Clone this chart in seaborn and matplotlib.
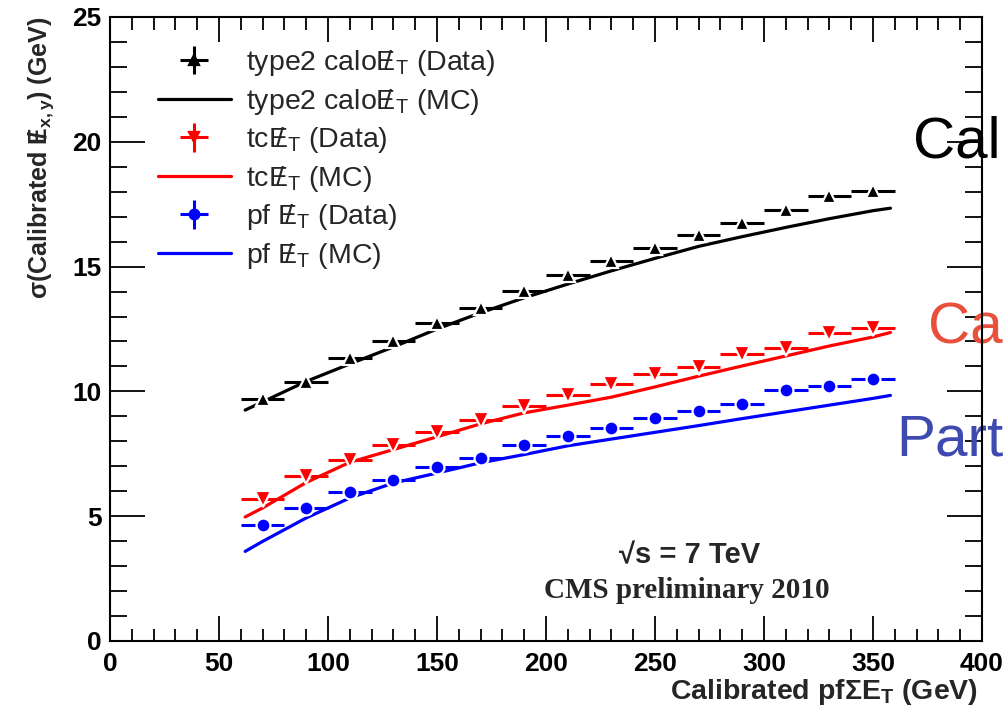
import numpy as np
import pandas as pd
import matplotlib
matplotlib.use("Agg")
import matplotlib.pyplot as plt
import matplotlib.lines as mlines
import seaborn as sns
from matplotlib.ticker import MultipleLocator

# ---- data ----
x_data = [70, 90, 110, 130, 150, 170, 190, 210, 230, 250, 270, 290, 310, 330, 350]
x_err = [10] * 15
y_err = [0.1] * 15
calo_data = [9.68, 10.39, 11.35, 12.0, 12.73, 13.36, 14.03, 14.65, 15.23, 15.73, 16.28, 16.75, 17.27, 17.84, 18.02]
tc_data = [5.70, 6.60, 7.27, 7.87, 8.37, 8.85, 9.41, 9.84, 10.28, 10.68, 10.99, 11.49, 11.75, 12.35, 12.55]
pf_data = [4.63, 5.34, 5.97, 6.47, 6.98, 7.34, 7.84, 8.23, 8.54, 8.93, 9.21, 9.50, 10.04, 10.21, 10.51]

x_mc = [62, 70, 90, 110, 130, 150, 170, 190, 210, 230, 250, 270, 290, 310, 330, 350, 358]
calo_mc = [9.25, 9.58, 10.4, 11.1, 11.78, 12.5, 13.15, 13.75, 14.3, 14.83, 15.33, 15.81, 16.2, 16.57, 16.92, 17.24, 17.34]
tc_mc = [4.97, 5.33, 6.35, 7.16, 7.67, 8.18, 8.70, 9.14, 9.45, 9.77, 10.18, 10.61, 11.02, 11.42, 11.82, 12.18, 12.36]
pf_mc = [3.59, 3.99, 4.93, 5.73, 6.33, 6.73, 7.14, 7.47, 7.82, 8.09, 8.36, 8.63, 8.91, 9.18, 9.45, 9.72, 9.84]

MET = r"${\mathrm{E}\!\!\!/\,}_\mathrm{T}$"
labels = [
    "type2 calo" + MET + " (Data)",
    "type2 calo" + MET + " (MC)",
    "tc" + MET + " (Data)",
    "tc" + MET + " (MC)",
    "pf " + MET + " (Data)",
    "pf " + MET + " (MC)",
]

sns.set_theme(style="ticks")
plt.rcParams["font.family"] = ["Liberation Sans", "DejaVu Sans"]
plt.rcParams["mathtext.fontset"] = "custom"
plt.rcParams["mathtext.rm"] = "Liberation Sans"
plt.rcParams["mathtext.bf"] = "Liberation Sans:bold"
plt.rcParams["mathtext.it"] = "Liberation Sans:italic"

W, H = 1005, 707
fig = plt.figure(figsize=(W / 100, H / 100), dpi=100)
fig.patch.set_facecolor("white")
ax = fig.add_axes([110 / W, 66 / H, 872 / W, 624 / H])
ax.set_facecolor("none")

mc = pd.DataFrame({"x": x_mc, "calo": calo_mc, "tc": tc_mc, "pf": pf_mc})

series = [
    (calo_data, "calo", "black", "^", 10),
    (tc_data, "tc", "red", "v", 11),
    (pf_data, "pf", "blue", "o", 10),
]
handles = []
for i, (yd, col, colr, mk, ms) in enumerate(series):
    eb = ax.errorbar(x_data, yd, xerr=x_err, yerr=y_err, fmt=mk, color=colr,
                     ms=ms, mec="white", mew=1.6, elinewidth=2.2, capsize=0, zorder=4)
    sns.lineplot(data=mc, x="x", y=col, color=colr, lw=2.3, ax=ax, zorder=3)
    line = ax.get_lines()[-1]
    handles.append(eb)
    handles.append(line)

ax.set_xlim(0, 400)
ax.set_ylim(0, 25)
ax.xaxis.set_major_locator(MultipleLocator(50))
ax.xaxis.set_minor_locator(MultipleLocator(10))
ax.yaxis.set_major_locator(MultipleLocator(5))
ax.yaxis.set_minor_locator(MultipleLocator(1))
ax.tick_params(which="both", direction="in", top=True, right=True, colors="black",
               width=1.3)
ax.tick_params(axis="x", which="major", length=18, pad=8)
ax.tick_params(axis="x", which="minor", length=9)
ax.tick_params(axis="y", which="major", length=25, pad=6)
ax.tick_params(axis="y", which="minor", length=12)
for lab in ax.get_xticklabels() + ax.get_yticklabels():
    lab.set_fontsize(19)
    lab.set_fontweight("bold")
for sp in ax.spines.values():
    sp.set_color("black")
    sp.set_linewidth(1.5)
    sp.set_zorder(5)

ax.set_xlabel(r"Calibrated pf$\mathbf{\Sigma}$E$_\mathbf{T}$ (GeV)", fontsize=20.5,
              fontweight="bold", loc="right")
ax.xaxis.set_label_coords(0.995, -0.058)
ax.set_ylabel(r"$\mathbf{\sigma}$(Calibrated ${\mathbf{E}\!\!\!\mathbf{/}\,}_{\mathbf{x,y}}$) (GeV)",
              fontsize=18, fontweight="bold", loc="top")
ax.yaxis.set_label_coords(-0.062, 1.0)

leg = ax.legend(handles, labels, loc="upper left", bbox_to_anchor=(0.055, 0.95),
                frameon=False, fontsize=20.5, handlelength=2.55, handletextpad=0.55,
                labelspacing=0.3, borderpad=0, borderaxespad=0)
for ln in leg.findobj(mlines.Line2D):
    if ln.get_marker() not in (None, "", "None"):
        ln.set_markeredgecolor(ln.get_color())
        ln.set_markersize(7)

fig.text(690 / W, 1 - 555 / H, "\u221as = 7 TeV", fontsize=21, fontweight="bold",
         ha="center", va="center")
fig.text(687 / W, 1 - 591 / H, "CMS preliminary 2010", fontsize=21, fontweight="bold",
         family="Liberation Serif", ha="center", va="center")

# overlay slide text (cut by the figure edge)
ax.text(913 / W, 1 - 157 / H, "Cal", transform=fig.transFigure, fontsize=42,
        color="black", ha="left", va="baseline", clip_on=False, zorder=1)
ax.text(928 / W, 1 - 343 / H, "Ca", transform=fig.transFigure, fontsize=42,
        color="#E8503C", ha="left", va="baseline", clip_on=False, zorder=1)
ax.text(896 / W, 1 - 455 / H, "Part", transform=fig.transFigure, fontsize=42,
        color="#3F4AB0", ha="left", va="baseline", clip_on=False, zorder=1)

fig.savefig("out.png", dpi=100)
